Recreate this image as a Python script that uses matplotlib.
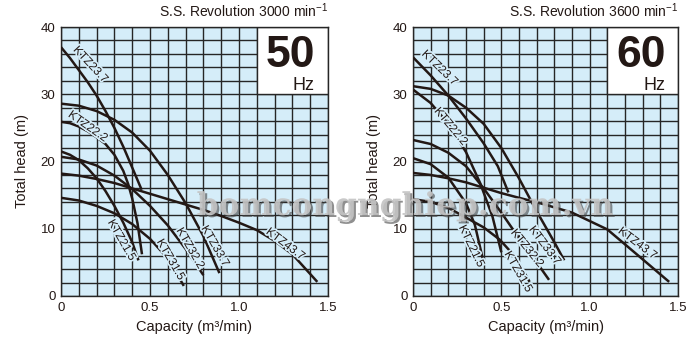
import matplotlib
matplotlib.use("Agg")
import matplotlib.pyplot as plt
from matplotlib.patches import Rectangle
import matplotlib.patheffects as pe

plt.rcParams['font.family'] = ['Liberation Sans', 'DejaVu Sans']
plt.rcParams['mathtext.fontset'] = 'custom'
plt.rcParams['mathtext.rm'] = 'Liberation Sans'

# ---- data (capacity m3/min, head m) ----
# 50 Hz
q50_237 = [0, 0.05, 0.1, 0.15, 0.2, 0.25, 0.3, 0.35, 0.4, 0.453]
h50_237 = [37.0, 35.4, 33.6, 31.8, 29.8, 27.5, 25.0, 22.2, 19.1, 15.8]
q50_222 = [0, 0.05, 0.1, 0.15, 0.2, 0.25, 0.3, 0.35, 0.378, 0.4, 0.43, 0.455]
h50_222 = [25.9, 25.7, 25.2, 24.5, 23.6, 22.6, 21.0, 18.6, 16.6, 14.5, 10.8, 6.2]
q50_215 = [0, 0.05, 0.1, 0.15, 0.2, 0.25, 0.3, 0.35, 0.4, 0.435]
h50_215 = [21.5, 21.0, 20.2, 19.0, 17.5, 15.6, 13.4, 10.9, 8.0, 5.3]
q50_337 = [0, 0.1, 0.2, 0.3, 0.4, 0.5, 0.6, 0.7, 0.8, 0.89]
h50_337 = [28.6, 28.3, 27.5, 26.2, 24.3, 21.6, 18.0, 13.8, 8.9, 3.4]
q50_322 = [0, 0.1, 0.2, 0.3, 0.4, 0.5, 0.6, 0.7, 0.8]
h50_322 = [20.7, 20.3, 19.4, 17.9, 15.9, 13.4, 10.5, 7.0, 3.1]
q50_437 = [0, 0.1, 0.2, 0.3, 0.4, 0.5, 0.6, 0.7, 0.8, 0.9, 1.0, 1.1, 1.2, 1.3, 1.44]
h50_437 = [18.2, 17.9, 17.4, 16.8, 16.0, 15.2, 14.4, 13.6, 12.8, 11.9, 10.9, 9.8, 8.2, 6.2, 2.1]
q50_315 = [0, 0.1, 0.2, 0.3, 0.4, 0.5, 0.6, 0.69]
h50_315 = [14.6, 14.2, 13.4, 12.3, 10.7, 8.5, 5.6, 1.5]

# 60 Hz
q60_237 = [0, 0.1, 0.2, 0.3, 0.4, 0.48, 0.54]
h60_237 = [35.5, 32.8, 29.8, 26.4, 22.7, 19.3, 15.4]
q60_222 = [0, 0.1, 0.2, 0.3, 0.38, 0.45, 0.50]
h60_222 = [30.7, 28.7, 25.6, 21.4, 16.8, 11.8, 6.5]
q60_337 = [0, 0.1, 0.2, 0.3, 0.4, 0.5, 0.6, 0.7, 0.8, 0.856]
h60_337 = [31.2, 30.8, 29.8, 28.0, 25.6, 22.0, 17.5, 12.6, 8.0, 5.3]
q60_322 = [0, 0.1, 0.2, 0.3, 0.4, 0.5, 0.6, 0.7, 0.77]
h60_322 = [23.2, 22.6, 21.3, 19.3, 16.0, 12.4, 8.6, 5.0, 2.4]
q60_215 = [0, 0.1, 0.2, 0.3, 0.35, 0.397]
h60_215 = [20.5, 19.6, 17.6, 13.8, 10.6, 5.3]
q60_437 = [0, 0.1, 0.2, 0.3, 0.4, 0.5, 0.6, 0.72, 0.9, 1.1, 1.28, 1.45]
h60_437 = [18.3, 18.0, 17.5, 16.9, 16.1, 15.3, 14.6, 13.8, 12.4, 9.9, 5.9, 2.1]
q60_315 = [0, 0.1, 0.2, 0.27, 0.4, 0.49, 0.58, 0.66]
h60_315 = [14.4, 14.0, 13.1, 12.1, 10.2, 8.4, 5.8, 2.1]

curves50 = [(q50_237, h50_237), (q50_222, h50_222), (q50_215, h50_215), (q50_337, h50_337),
            (q50_322, h50_322), (q50_437, h50_437), (q50_315, h50_315)]
curves60 = [(q60_237, h60_237), (q60_222, h60_222), (q60_215, h60_215), (q60_337, h60_337),
            (q60_322, h60_322), (q60_437, h60_437), (q60_315, h60_315)]

# curve labels: name, x, y, angle
labels50 = [("KTZ23.7", 0.165, 34.4, -47), ("KTZ22.2", 0.15, 25.2, -35),
            ("KTZ21.5", 0.34, 8.3, -60), ("KTZ31.5", 0.615, 5.4, -60),
            ("KTZ32.2", 0.725, 7.1, -60), ("KTZ33.7", 0.865, 7.4, -60),
            ("KTZ43.7", 1.26, 7.7, -37)]
labels60 = [("KTZ23.7", 0.15, 33.9, -44), ("KTZ22.2", 0.213, 25.2, -50),
            ("KTZ21.5", 0.33, 7.4, -64), ("KTZ31.5", 0.595, 3.6, -60),
            ("KTZ32.2", 0.645, 7.1, -51), ("KTZ33.7", 0.745, 7.5, -53),
            ("KTZ43.7", 1.27, 7.8, -37)]

xticks = [0, 0.5, 1.0, 1.5]
xticklabels = ["0", "0.5", "1.0", "1.5"]
yticks = [0, 10, 20, 30, 40]

bg = "#d5edf9"
ink = "#231815"
grid_c = "#262626"

fig = plt.figure(figsize=(7, 3.44), dpi=100)
ax1 = fig.add_axes([61 / 700, 1 - 296 / 344, 267 / 700, 269 / 344])
ax2 = fig.add_axes([413 / 700, 1 - 296 / 344, 265 / 700, 269 / 344])


def draw(ax, curves, labels, rev, hz):
    ax.set_facecolor(bg)
    ax.set_xlim(0, 1.5)
    ax.set_ylim(0, 40)
    ax.set_xticks(xticks)
    ax.set_xticklabels(xticklabels)
    ax.set_yticks(yticks)
    ax.set_xticks([i * 0.1 for i in range(16)], minor=True)
    ax.set_yticks(list(range(0, 41, 2)), minor=True)
    ax.grid(which="both", color=grid_c, linewidth=1.0)
    ax.set_axisbelow(True)
    ax.tick_params(which="both", length=0, labelsize=9.5, colors=ink, pad=4)
    for s in ax.spines.values():
        s.set_color(grid_c)
        s.set_linewidth(1.0)
    ax.add_patch(Rectangle((1.1, 30), 0.4, 10, facecolor="white", edgecolor=grid_c,
                           linewidth=1.0, zorder=1.5))
    for q, h in curves:
        ax.plot(q, h, color=ink, linewidth=1.8, zorder=3, solid_capstyle="butt")
    for name, x, y, a in labels:
        ax.text(x, y, name, rotation=a, rotation_mode="anchor", ha="center", va="center",
                fontsize=8.5, color=ink, zorder=4,
                path_effects=[pe.withStroke(linewidth=2.5, foreground=bg)])
    ax.text(1.29, 34.1, hz, fontsize=32, fontweight="bold", color=ink,
            ha="center", va="baseline", zorder=4)
    ax.text(1.365, 30.7, "Hz", fontsize=13, color=ink, ha="center", va="baseline", zorder=4)
    ax.text(1.0, 1.025, "S.S. Revolution " + rev + r" min$^{\mathregular{-1}}$",
            transform=ax.transAxes, ha="right", va="bottom", fontsize=10, color=ink)
    ax.set_xlabel("Capacity (m³/min)", fontsize=10.5, color=ink, labelpad=5)
    ax.set_ylabel("Total head (m)", fontsize=10.5, color=ink, labelpad=8)


draw(ax1, curves50, labels50, "3000", "50")
draw(ax2, curves60, labels60, "3600", "60")

# site watermark across the middle
fig.text(0.579, 0.40, "bomcongnghiep.com.vn", fontsize=22.5, fontweight="bold",
         family="DejaVu Serif", color="#c4c4c4", alpha=0.9, ha="center", va="center",
         path_effects=[pe.withSimplePatchShadow(offset=(1.5, -1.5), shadow_rgbFace="#444444", alpha=0.6)])

fig.savefig("out.png", dpi=100)
